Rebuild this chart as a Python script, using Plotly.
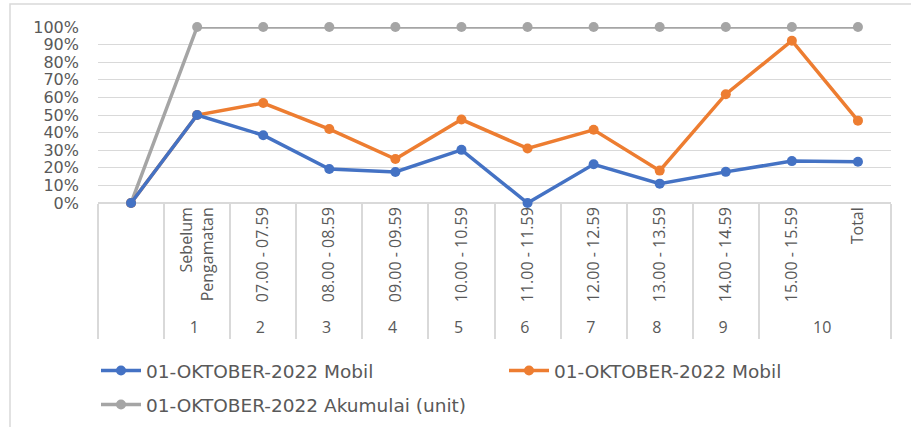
import plotly.graph_objects as go

groups = [" ", "1", "2", "3", "4", "5", "6", "7", "8", "9", "10", "10"]
periods = [" ", "Sebelum<br>Pengamatan", "07.00 - 07.59", "08.00 - 08.59", "09.00 - 09.59",
           "10.00 - 10.59", "11.00 - 11.59", "12.00 - 12.59", "13.00 - 13.59",
           "14.00 - 14.59", "15.00 - 15.59", "Total"]

mobil_a = [0, 50, 38.5, 19.3, 17.6, 30.2, 0, 22.0, 11.0, 17.7, 23.8, 23.4]
mobil_b = [0, 50, 56.8, 42.0, 25.0, 47.4, 31.0, 41.6, 18.4, 61.8, 92.2, 46.8]
akumulasi = [0, 100, 100, 100, 100, 100, 100, 100, 100, 100, 100, 100]

series_names = ["01-OKTOBER-2022 Mobil", "01-OKTOBER-2022 Mobil", "01-OKTOBER-2022 Akumulai (unit)"]
colors = ["#4472C4", "#ED7D31", "#A5A5A5"]

# plot-area geometry (pixels)
L, R, T, B = 98, 20, 27, 224
PW, PH = 911 - L - R, 427 - T - B

x = [groups, periods]
fig = go.Figure()
for vals, name, col, lg in [(akumulasi, series_names[2], colors[2], "legend3"),
                            (mobil_b, series_names[1], colors[1], "legend2"),
                            (mobil_a, series_names[0], colors[0], "legend")]:
    fig.add_trace(go.Scatter(
        x=x, y=vals, name=name, mode="lines+markers",
        line=dict(color=col, width=3.5),
        marker=dict(color=col, size=10),
        cliponaxis=False, legend=lg,
    ))

leg_font = dict(family="DejaVu Sans, Open Sans, sans-serif", size=18.5, color="#595959")


def leg(px_x, px_y):
    return dict(orientation="h", x=(px_x - L) / PW, y=(T + PH - px_y) / PH,
                xanchor="left", yanchor="middle", font=leg_font, itemwidth=40,
                bgcolor="rgba(0,0,0,0)")


fig.update_layout(
    width=911, height=427,
    margin=dict(l=L, r=R, t=T, b=B, autoexpand=False),
    paper_bgcolor="white", plot_bgcolor="white",
    showlegend=True,
    legend=leg(96, 371),
    legend2=leg(504, 371),
    legend3=leg(96, 405),
    xaxis=dict(type="multicategory", tickangle=-90, range=[-0.5, len(periods) - 0.5],
               tickfont=dict(family="Open Sans, Liberation Sans, sans-serif", size=16, color="#595959"),
               showdividers=True, dividercolor="#D9D9D9", dividerwidth=1.5,
               showgrid=False, showline=False, ticks="", zeroline=False, automargin=False),
    yaxis=dict(range=[0, 100], dtick=10, ticksuffix="%",
               tickfont=dict(family="DejaVu Sans, Open Sans, sans-serif", size=16, color="#595959"),
               showgrid=True, gridcolor="#D9D9D9", gridwidth=1.3,
               zeroline=True, zerolinecolor="#D9D9D9", zerolinewidth=1.5,
               showline=False, ticks="", ticklabelstandoff=18, automargin=False),
    shapes=[dict(type="rect", xref="paper", yref="paper",
                 x0=(10 - L) / PW, x1=(915 - L) / PW,
                 y0=(T + PH - 432) / PH, y1=(T + PH - 4) / PH,
                 line=dict(color="#D9D9D9", width=1.5), fillcolor="rgba(0,0,0,0)", layer="below")],
)

fig.write_html("out.html", config={"displayModeBar": False},
               post_script="document.body.style.margin='0';")
